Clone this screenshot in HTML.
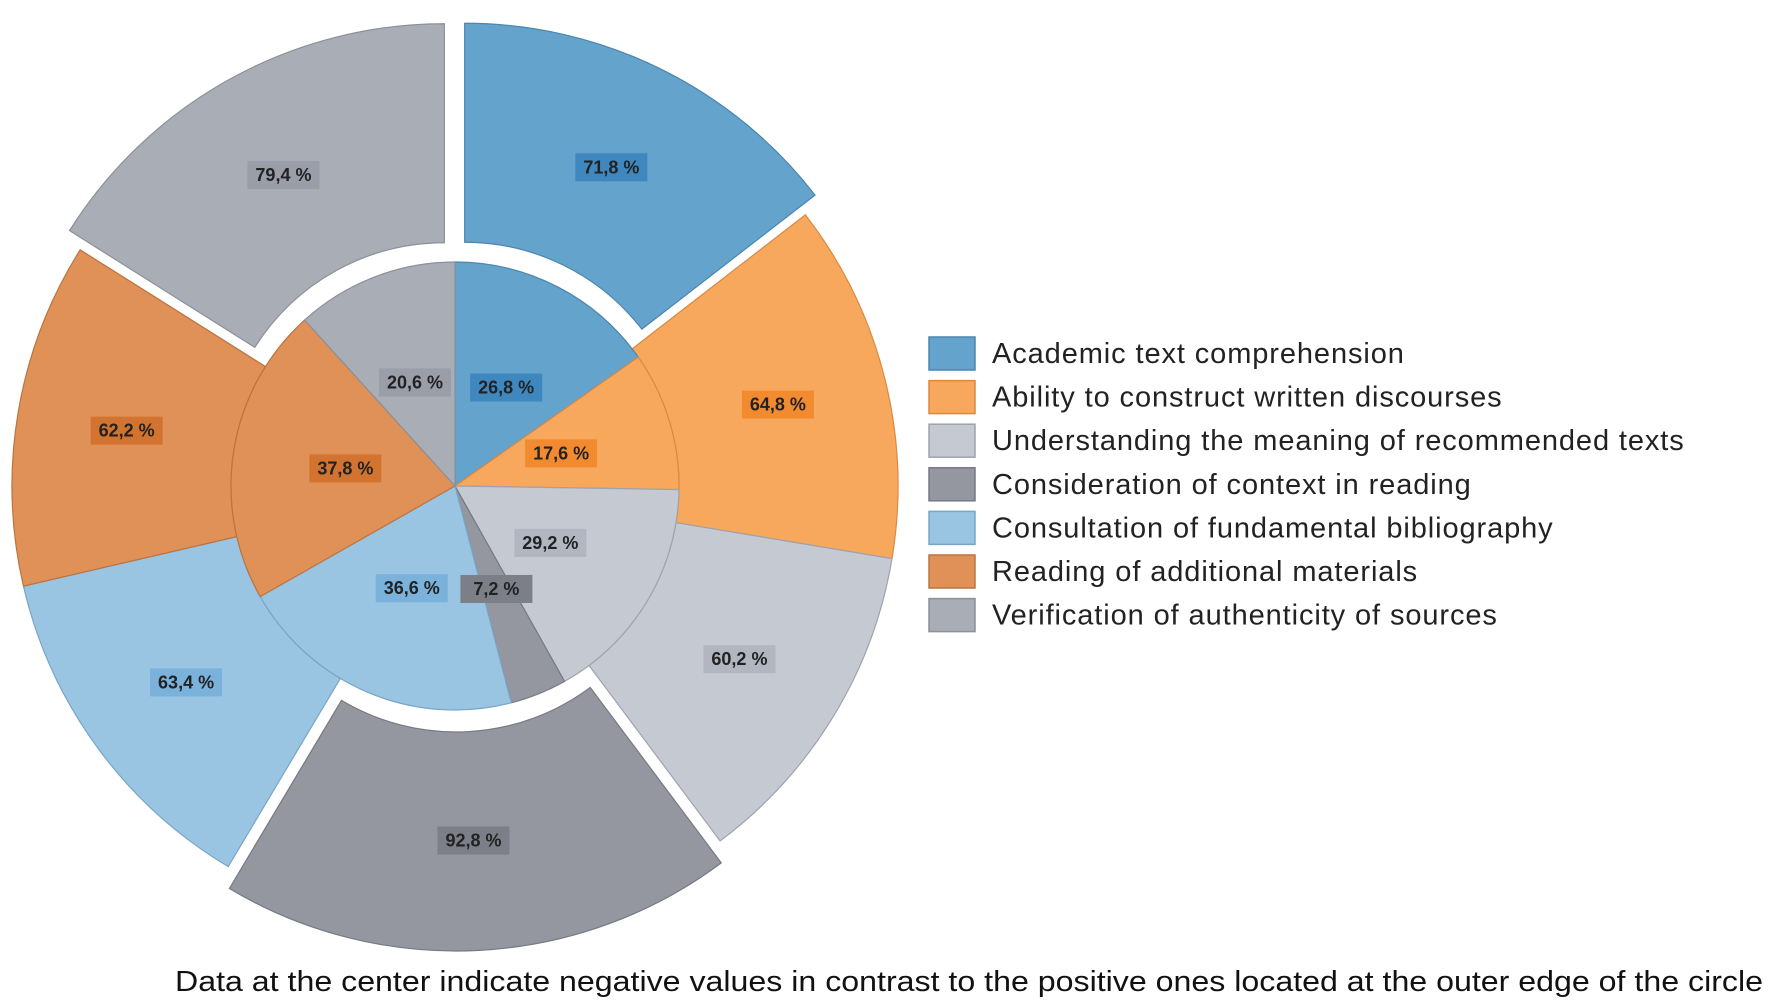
<!DOCTYPE html>
<html><head><meta charset="utf-8"><style>
html,body{margin:0;padding:0;background:#fff;}
svg{display:block;font-family:"Liberation Sans",sans-serif;}
</style></head><body>
<svg id="chart" width="1772" height="1007" viewBox="0 0 1772 1007" xmlns="http://www.w3.org/2000/svg">
<g id="outer"></g>
<g id="inner"></g>
<g id="labels"></g>
<g id="legend"></g>
<text x="175" y="991" font-size="29" fill="#111" textLength="1588" lengthAdjust="spacingAndGlyphs">Data at the center indicate negative values in contrast to the positive ones located at the outer edge of the circle</text>
</svg>
<script>
const categories = ["Academic text comprehension","Ability to construct written discourses","Understanding the meaning of recommended texts","Consideration of context in reading","Consultation of fundamental bibliography","Reading of additional materials","Verification of authenticity of sources"];
const positiveValues = [71.8,64.8,60.2,92.8,63.4,62.2,79.4];
const negativeValues = [26.8,17.6,29.2,7.2,36.6,37.8,20.6];
const exploded = [true,false,false,true,false,false,true];

const fills = ["#64a3cc","#f8a85d","#c5c9d2","#9497a0","#99c5e3","#e09158","#a9adb5"];
const labelBg = ["#3f88bf","#f28b30","#b2b6c1","#7c7f88","#7ab2db","#d2732f","#9a9ea8"];
const strokes = ["#4b86ad","#d98a42","#9ea3ad","#767983","#78a6c6","#bb7440","#8c9099"];
const cx=455, cy=486, rIn=224, rOut=443, off=22;
const NS="http://www.w3.org/2000/svg";
function pt(r,a,dx,dy){return [cx+dx+r*Math.sin(a), cy+dy-r*Math.cos(a)];}
function ang(vals){const s=vals.reduce((a,b)=>a+b,0);let acc=0;return vals.map(v=>{const a0=acc/s*2*Math.PI;acc+=v;return [a0,acc/s*2*Math.PI];});}
function slug(s){return s.toLowerCase().replace(/[^a-z]+/g,'-').replace(/-$/,'');}
function label(g,x,y,txt,bg){
  const r=document.createElementNS(NS,'rect');
  r.setAttribute('x',x-36);r.setAttribute('y',y-14);r.setAttribute('width',72);r.setAttribute('height',28);
  r.setAttribute('fill',bg);
  
  
  g.appendChild(r);
  const t=document.createElementNS(NS,'text');
  t.setAttribute('x',x);t.setAttribute('y',y+6);t.setAttribute('text-anchor','middle');
  t.setAttribute('font-size','18');t.setAttribute('font-weight','bold');t.setAttribute('fill','#222');
  t.textContent=txt;
  
  
  g.appendChild(t);
}
const fmt=v=>v.toFixed(1).replace('.',',')+' %';
const gO=document.getElementById('outer'), gI=document.getElementById('inner'), gL=document.getElementById('labels');
ang(positiveValues).forEach(([a0,a1],i)=>{
  const m=(a0+a1)/2, d=exploded[i]?off:0, dx=d*Math.sin(m), dy=-d*Math.cos(m);
  const p1=pt(rIn,a0,dx,dy),p2=pt(rOut,a0,dx,dy),p3=pt(rOut,a1,dx,dy),p4=pt(rIn,a1,dx,dy);
  const lg=(a1-a0)>Math.PI?1:0;
  const p=document.createElementNS(NS,'path');
  p.setAttribute('d',`M${p1}L${p2}A${rOut},${rOut} 0 ${lg} 1 ${p3}L${p4}A${rIn},${rIn} 0 ${lg} 0 ${p1}Z`);
  p.setAttribute('fill',fills[i]);p.setAttribute('stroke',strokes[i]);p.setAttribute('stroke-width','1.2');
  
  
  gO.appendChild(p);
  const lp=pt(333,m,dx,dy);
  label(gL,lp[0],lp[1],fmt(positiveValues[i]),labelBg[i]);
});
ang(negativeValues).forEach(([a0,a1],i)=>{
  const m=(a0+a1)/2;
  const p1=pt(rIn,a0,0,0),p2=pt(rIn,a1,0,0);
  const lg=(a1-a0)>Math.PI?1:0;
  const p=document.createElementNS(NS,'path');
  p.setAttribute('d',`M${cx},${cy}L${p1}A${rIn},${rIn} 0 ${lg} 1 ${p2}Z`);
  p.setAttribute('fill',fills[i]);p.setAttribute('stroke',strokes[i]);p.setAttribute('stroke-width','1.2');
  
  
  gI.appendChild(p);
  const lp=pt(111,m,0,0);
  label(gL,lp[0],lp[1],fmt(negativeValues[i]),labelBg[i]);
});
const gLeg=document.getElementById('legend');
categories.forEach((c,i)=>{
  const y=353+i*43.6;
  const r=document.createElementNS(NS,'rect');
  r.setAttribute('x',929);r.setAttribute('y',y-16);r.setAttribute('width',46);r.setAttribute('height',33);
  r.setAttribute('fill',fills[i]);r.setAttribute('stroke',strokes[i]);r.setAttribute('stroke-width','1.5');
  
  
  gLeg.appendChild(r);
  const t=document.createElementNS(NS,'text');
  t.setAttribute('x',992);t.setAttribute('y',y+10);t.setAttribute('font-size','29');t.setAttribute('fill','#222');
  t.setAttribute('letter-spacing','0.9');
  t.textContent=c;
  
  
  gLeg.appendChild(t);
});
</script>
</body></html>
